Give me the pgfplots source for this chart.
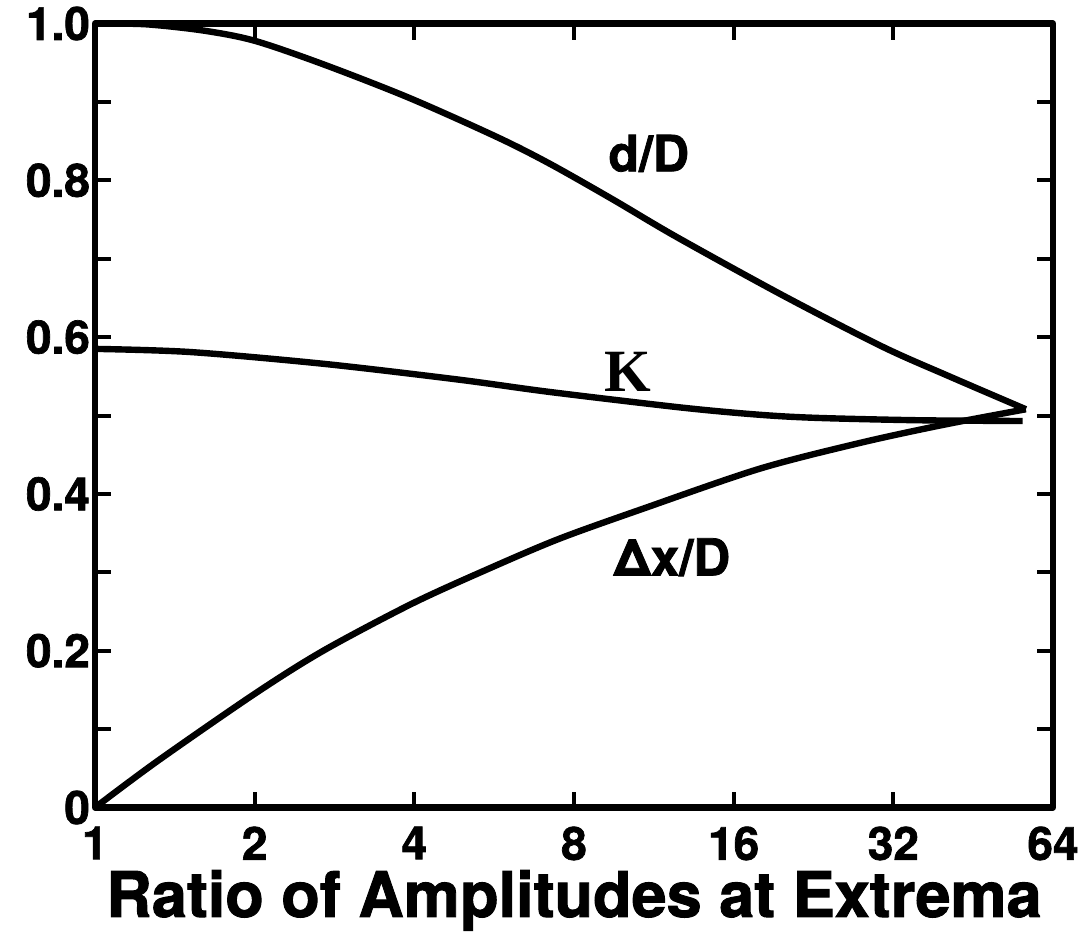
\documentclass[border=0pt]{standalone}
\usepackage{pgfplots}
\pgfplotsset{compat=1.18}
\usepackage{fontspec}
\setmainfont{TeX Gyre Heros}[BoldFeatures={FakeBold=1.5}]
\newfontfamily\kfont{Liberation Serif}

\pgfplotstableread{
x y
1 1.000
1.248 0.999
1.602 0.991
2 0.978
2.694 0.948
3.918 0.905
5.736 0.855
7.210 0.821
9.448 0.776
12.47 0.728
19.84 0.653
30.48 0.588
40.79 0.550
56.89 0.508
}\dD

\pgfplotstableread{
x y
1 0.585
1.511 0.581
2.694 0.566
4.823 0.546
7.210 0.530
12.82 0.510
17.88 0.501
22.94 0.497
35.51 0.494
56.10 0.493
}\K

\pgfplotstableread{
x y
1 0
1.310 0.059
2 0.145
2.694 0.200
3.959 0.260
5.541 0.305
7.516 0.343
10.78 0.381
17.88 0.432
27.66 0.465
39.67 0.488
56.89 0.508
}\dx

\begin{document}
\begin{tikzpicture}
\begin{axis}[
  scale only axis, width=479pt, height=392pt,
  xmode=log, log basis x=2,
  xmin=1, xmax=64, ymin=0, ymax=1,
  xtick={1,2,4,8,16,32,64},
  xticklabels={1,2,4,8,16,32,64},
  ytick={0,0.2,0.4,0.6,0.8,1.0},
  yticklabels={0,0.2,0.4,0.6,0.8,1.0},
  minor ytick={0.1,0.3,0.5,0.7,0.9},
  xminorticks=false,
  tick align=inside,
  major tick length=8pt, minor tick length=8pt,
  tick style={line width=2pt, black},
  axis line style={line width=3.2pt, line join=round},
  ticklabel style={font=\fontsize{23}{26}\selectfont\bfseries},
  xticklabel style={yshift=-6pt},
  yticklabel style={xshift=1pt},
  xlabel={Ratio of Amplitudes at Extrema},
  xlabel style={font=\fontsize{31.5}{36}\selectfont\bfseries, yshift=2pt},
  clip=false,
]
\addplot[black, line width=3.2pt, smooth, line join=round] table {\dD};
\addplot[black, line width=3.2pt, smooth, line join=round] table {\K};
\addplot[black, line width=3.2pt, smooth, line join=round] table {\dx};
\node[font=\fontsize{25}{28}\selectfont\bfseries, anchor=base] at (axis cs:11.07,0.8115) {d/D};
\node[font=\kfont\bfseries\fontsize{30}{32}\selectfont, anchor=base] at (axis cs:10.11,0.531) {K};
\node[font=\fontsize{25.5}{28}\selectfont\bfseries, anchor=base] at (axis cs:12.24,0.296) {Δx/D};
\end{axis}
\path (current axis.south west) ++(-47.5pt,-61.5pt) rectangle ++(544pt,464.5pt);
\end{tikzpicture}
\end{document}
